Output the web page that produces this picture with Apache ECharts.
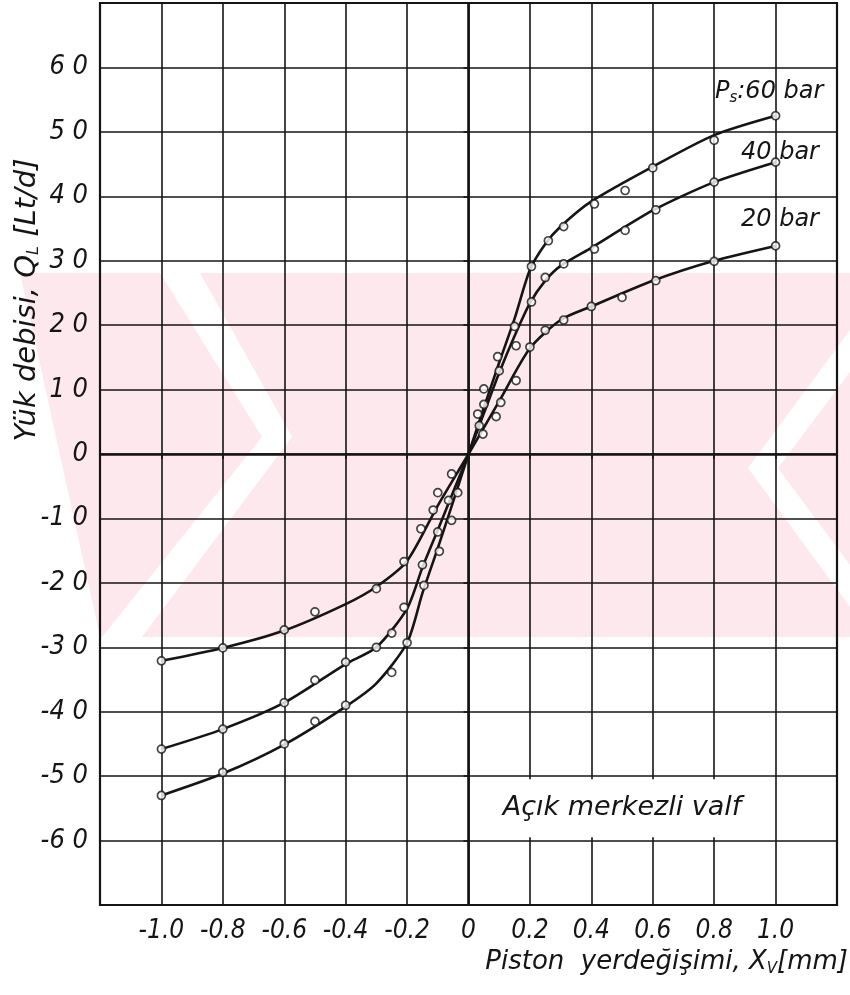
<!DOCTYPE html>
<html><head><meta charset="utf-8">
<script src="https://cdn.jsdelivr.net/npm/echarts@6/dist/echarts.min.js"></script>
<style>html,body{margin:0;padding:0;background:#fff}#c{width:850px;height:995px}</style>
</head><body><div id="c"></div>
<script>
// ---- tick labels ----
const xTickValues = [-1.0, -0.8, -0.6, -0.4, -0.2, 0, 0.2, 0.4, 0.6, 0.8, 1.0];
const yTickValues = [-60, -50, -40, -30, -20, -10, 0, 10, 20, 30, 40, 50, 60];

// ---- measured points (open circles) ----
const pts60 = [[-1.0,-53.0],[-0.8,-49.4],[-0.6,-45.0],[-0.5,-41.5],[-0.4,-39.0],[-0.25,-33.9],[-0.2,-29.3],[-0.145,-20.4],[-0.095,-15.1],[-0.055,-10.3],[0.03,6.2],[0.05,10.1],[0.095,15.1],[0.15,19.8],[0.205,29.1],[0.26,33.1],[0.31,35.3],[0.41,38.8],[0.51,40.9],[0.6,44.4],[0.8,48.7],[1.0,52.5]];
const pts40 = [[-1.0,-45.8],[-0.8,-42.7],[-0.6,-38.6],[-0.5,-35.1],[-0.4,-32.3],[-0.3,-30.0],[-0.25,-27.8],[-0.21,-23.8],[-0.15,-17.2],[-0.1,-12.1],[-0.065,-7.2],[-0.035,-6.0],[0.035,4.4],[0.05,7.7],[0.1,12.9],[0.155,16.8],[0.205,23.6],[0.25,27.4],[0.31,29.5],[0.41,31.8],[0.51,34.7],[0.61,37.9],[0.8,42.2],[1.0,45.3]];
const pts20 = [[-1.0,-32.1],[-0.8,-30.1],[-0.6,-27.3],[-0.5,-24.5],[-0.3,-20.9],[-0.21,-16.7],[-0.155,-11.6],[-0.115,-8.7],[-0.1,-6.0],[-0.055,-3.1],[0.047,3.1],[0.09,5.8],[0.105,8.0],[0.155,11.4],[0.2,16.6],[0.25,19.2],[0.31,20.8],[0.4,22.9],[0.5,24.3],[0.61,26.9],[0.8,29.9],[1.0,32.3]];

// ---- fitted curves ----
const curve60 = [[-1.0,-53.0],[-0.8,-49.6],[-0.6,-45.1],[-0.4,-39.2],[-0.3,-35.6],[-0.2,-29.3],[-0.15,-21.6],[-0.1,-14.6],[-0.05,-7.4],[0,0],[0.05,7.2],[0.1,14.2],[0.15,21.0],[0.2,28.6],[0.25,32.6],[0.3,35.3],[0.4,39.2],[0.6,44.6],[0.8,49.5],[1.0,52.5]];
const curve40 = [[-1.0,-45.8],[-0.8,-42.7],[-0.6,-38.6],[-0.4,-32.6],[-0.3,-30.0],[-0.2,-24.0],[-0.15,-17.6],[-0.1,-11.8],[-0.05,-5.9],[0,0],[0.05,6.3],[0.1,12.6],[0.15,18.3],[0.2,23.4],[0.25,26.9],[0.3,29.2],[0.4,32.0],[0.6,37.8],[0.8,42.2],[1.0,45.3]];
const curve20 = [[-1.0,-32.1],[-0.8,-30.1],[-0.6,-27.4],[-0.4,-23.3],[-0.3,-20.6],[-0.2,-16.6],[-0.1,-8.0],[0,0],[0.1,8.2],[0.2,16.4],[0.3,20.8],[0.4,22.9],[0.6,26.9],[0.8,30.0],[1.0,32.3]];

const seriesNames = ['60 bar', '40 bar', '20 bar'];
const boxText = 'Açık merkezli valf';

const INK = '#151515';
const NARROW = "'Liberation Sans Narrow','DejaVu Sans Condensed',sans-serif";
const WIDE = "'DejaVu Sans',sans-serif";

const chart = echarts.init(document.getElementById('c'), null, {renderer: 'canvas'});

function lineSeries(name, data) {
  return {
    name: name, type: 'line', data: data, smooth: 0.25,
    showSymbol: false, symbol: 'none', silent: true,
    lineStyle: {color: INK, width: 2.6}, z: 3
  };
}
function dotSeries(name, data) {
  return {
    name: name + ' ölçüm', type: 'scatter', data: data, symbol: 'circle', symbolSize: 8,
    itemStyle: {color: '#fff', borderColor: INK, borderWidth: 1.7}, z: 4, silent: true
  };
}

const series = [
  lineSeries(seriesNames[0], curve60),
  lineSeries(seriesNames[1], curve40),
  lineSeries(seriesNames[2], curve20),
  dotSeries(seriesNames[0], pts60),
  dotSeries(seriesNames[1], pts40),
  dotSeries(seriesNames[2], pts20),
  {
    name: 'frame', type: 'line', data: [], silent: true, z: 2,
    markLine: {
      silent: true, symbol: 'none', label: {show: false},
      lineStyle: {color: INK, width: 2.6, type: 'solid'},
      data: [{xAxis: 0}, {yAxis: 0}]
    },
    markArea: {
      silent: true,
      itemStyle: {color: '#ffffff', opacity: 1},
      label: {
        show: true, position: 'inside', formatter: boxText,
        fontFamily: WIDE, fontStyle: 'italic', fontSize: 27, color: INK
      },
      data: [[{coord: [0.04, -50.5]}, {coord: [0.96, -59.5]}]]
    }
  }
];

const option = {
  animation: false,
  backgroundColor: '#fff',
  grid: {left: 100, right: 13, top: 3, bottom: 90, show: true, borderColor: INK, borderWidth: 2.2, backgroundColor: 'transparent'},
  xAxis: {
    type: 'value', min: -1.2, max: 1.2, interval: 0.2,
    axisLine: {show: false},
    axisTick: {show: true, length: 5, lineStyle: {color: INK, width: 1.6}},
    splitLine: {show: true, lineStyle: {color: INK, width: 1.6}},
    axisLabel: {
      margin: 13, color: INK, fontFamily: NARROW, fontStyle: 'italic', fontSize: 26,
      showMinLabel: false, showMaxLabel: false,
      formatter: function (v) {
        const r = Math.round(v * 10) / 10;
        if (!xTickValues.some(t => Math.abs(t - r) < 1e-6)) return '';
        return r === 0 ? '0' : r.toFixed(1);
      }
    }
  },
  yAxis: {
    type: 'value', min: -70, max: 70, interval: 10,
    axisLine: {show: false},
    axisTick: {show: true, length: 5, lineStyle: {color: INK, width: 1.6}},
    splitLine: {show: true, lineStyle: {color: INK, width: 1.6}},
    axisLabel: {
      margin: 12, color: INK, fontFamily: NARROW, fontStyle: 'italic', fontSize: 27,
      formatter: function (v) {
        const r = Math.round(v);
        if (!yTickValues.includes(r)) return '';
        return String(r).replace(/(\d)(?=\d)/g, '$1 ');
      }
    }
  },
  graphic: [
    // pink watermark band of the scanned page
    {type: 'polygon', z: -10, silent: true,
     shape: {points: [[20,273],[850,273],[850,637],[100,637]]},
     style: {fill: '#fde8ed'}},
    {type: 'polygon', z: -9, silent: true,
     shape: {points: [[160,273],[200,273],[292,437],[142,637],[102,637],[262,437]]},
     style: {fill: '#ffffff'}},
    {type: 'polygon', z: -9, silent: true,
     shape: {points: [[850,330],[850,372],[778,468],[850,565],[850,607],[748,468]]},
     style: {fill: '#ffffff'}},
    // axis titles
    {type: 'text', x: 27, y: 300, rotation: Math.PI / 2, silent: true,
     style: {
       text: '{m|Yük debisi, Q}{s|L}{m| [Lt/d]}',
       textAlign: 'center', textVerticalAlign: 'middle',
       fill: INK, fontFamily: WIDE, fontStyle: 'italic', fontSize: 29,
       rich: {
         m: {fontFamily: WIDE, fontStyle: 'italic', fontSize: 29, fill: INK, verticalAlign: 'middle'},
         s: {fontFamily: WIDE, fontStyle: 'italic', fontSize: 16, fill: INK, verticalAlign: 'bottom', padding: [14, 0, 0, 0]}
       }
     }},
    {type: 'text', x: 848, y: 962, silent: true,
     style: {
       text: '{m|Piston  yerdeğişimi, X}{s|V}{m|[mm]}',
       textAlign: 'right', textVerticalAlign: 'middle',
       fill: INK, fontFamily: WIDE, fontStyle: 'italic', fontSize: 26,
       rich: {
         m: {fontFamily: WIDE, fontStyle: 'italic', fontSize: 26, fill: INK, verticalAlign: 'middle'},
         s: {fontFamily: WIDE, fontStyle: 'italic', fontSize: 15, fill: INK, verticalAlign: 'bottom', padding: [14, 0, 0, 0]}
       }
     }},
    // curve labels
    {type: 'text', x: 715, y: 92, silent: true,
     style: {
       text: '{m|P}{s|s}{m|:' + seriesNames[0] + '}',
       textAlign: 'left', textVerticalAlign: 'middle', fill: INK,
       fontFamily: WIDE, fontStyle: 'italic', fontSize: 24,
       rich: {
         m: {fontFamily: WIDE, fontStyle: 'italic', fontSize: 24, fill: INK, verticalAlign: 'middle'},
         s: {fontFamily: WIDE, fontStyle: 'italic', fontSize: 15, fill: INK, verticalAlign: 'bottom', padding: [12, 0, 0, 0]}
       }
     }},
    {type: 'text', x: 741, y: 153, silent: true,
     style: {text: seriesNames[1], textAlign: 'left', textVerticalAlign: 'middle', fill: INK,
             fontFamily: WIDE, fontStyle: 'italic', fontSize: 24}},
    {type: 'text', x: 741, y: 220, silent: true,
     style: {text: seriesNames[2], textAlign: 'left', textVerticalAlign: 'middle', fill: INK,
             fontFamily: WIDE, fontStyle: 'italic', fontSize: 24}}
  ],
  series: series
};
chart.setOption(option);
</script>
</body></html>
